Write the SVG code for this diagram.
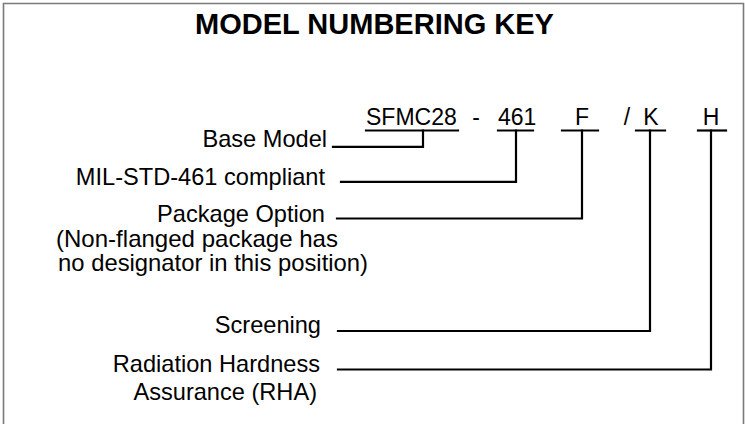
<svg xmlns="http://www.w3.org/2000/svg" width="745" height="424" viewBox="0 0 745 424">
<style>
text{font-family:"Liberation Sans",Arial,Helvetica,sans-serif;fill:#000}
.t{font-size:29px;font-weight:bold;text-anchor:middle}
.c{font-size:23px}
.m{text-anchor:middle}
.l{font-size:23.6px;text-anchor:end}
.s{font-size:23.6px}
.w{fill:none;stroke:#000;stroke-width:2.2;stroke-linecap:square;stroke-linejoin:miter}
</style>
<rect width="745" height="424" fill="#fff"/>
<path d="M3.5,424V3.5H743.5V424" fill="none" stroke="#7a7a7a" stroke-width="1.6"/>
<text class="t" x="374.5" y="34">MODEL NUMBERING KEY</text>
<g id="code">
<text class="c" x="366" y="125">SFMC28</text>
<text class="c m" x="476" y="125">-</text>
<text class="c" x="498" y="125">461</text>
<text class="c m" x="582" y="125">F</text>
<text class="c m" x="627" y="125">/</text>
<text class="c m" x="651" y="125">K</text>
<text class="c m" x="711" y="125">H</text>
</g>
<g id="base-model"><text class="l" x="327" y="147">Base Model</text></g>
<g id="mil"><text class="l" x="325" y="184.5">MIL-STD-461 compliant</text></g>
<g id="package"><text class="l" x="325" y="222">Package Option</text>
<text class="s" x="56" y="246.5" textLength="282" lengthAdjust="spacingAndGlyphs">(Non-flanged package has</text>
<text class="s" x="58" y="270.5" textLength="310" lengthAdjust="spacingAndGlyphs">no designator in this position)</text></g>
<g id="screening"><text class="l" x="321" y="333">Screening</text></g>
<g id="rha"><text class="l" x="320" y="372">Radiation Hardness</text>
<text class="l" x="317" y="400">Assurance (RHA)</text></g>
<g id="connectors">
<path class="w" d="M366,130.5H458"/>
<path class="w" d="M333,146.8H423V130.5"/>
<path class="w" d="M498,130.5H533"/>
<path class="w" d="M341,181.8H516V130.5"/>
<path class="w" d="M562,130.5H598"/>
<path class="w" d="M337,218.5H582V130.5"/>
<path class="w" d="M636,130.5H665"/>
<path class="w" d="M338,331H650V130.5"/>
<path class="w" d="M698,130.5H726"/>
<path class="w" d="M338,369.5H711V130.5"/>
</g>
</svg>
